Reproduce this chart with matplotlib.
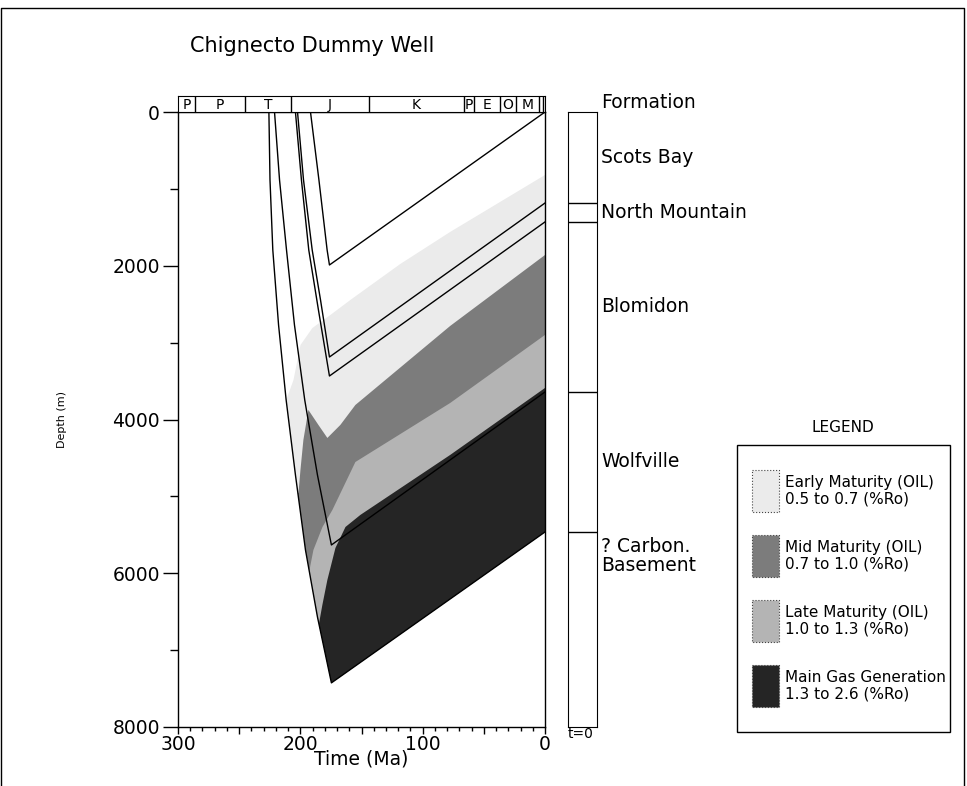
import matplotlib
matplotlib.use('Agg')
import matplotlib.pyplot as plt
from matplotlib.patches import Polygon, Rectangle
import matplotlib.transforms as mtransforms
import numpy as np

plt.rcParams['font.family'] = ['DejaVu Sans']

# burial history of the five horizons, age (Ma) and depth (m)
h1_age = [225.7, 224.8, 222.5, 217.8, 211.6, 204.0, 195.8, 186.0, 174.6, 0]
h1_depth = [0, 884, 1795, 2770, 3746, 4721, 5697, 6569, 7426, 5463]
h2_age = [221.1, 217.0, 211.3, 204.8, 196.4, 186.0, 174.6, 0]
h2_depth = [0, 884, 1795, 2770, 3746, 4722, 5632, 3642]
h3_age = [204.0, 199.1, 193.1, 185.2, 176.2, 0]
h3_depth = [0, 884, 1795, 2575, 3434, 1430]
h4_age = [202.3, 197.4, 190.3, 183.5, 176.2, 0]
h4_depth = [0, 884, 1795, 2445, 3187, 1184]
h5_age = [191.7, 184.8, 178.1, 176.2, 0]
h5_depth = [0, 884, 1795, 1990, 0]

# maturity isolines (%Ro)
ro05_age = [0, 77.5, 118.3, 159.1, 175.4, 190.1, 199.9, 205.6, 212.1]
ro05_depth = [819, 1560, 1977, 2445, 2640, 2809, 3031, 3486, 3772]
ro07_age = [0, 77.5, 155.0, 167.3, 177.9, 185.2, 193.4, 197.5, 199.9, 201.5]
ro07_depth = [1860, 2783, 3811, 4071, 4240, 4071, 3876, 4266, 4656, 4955]
ro10_age = [0, 77.5, 155.0, 173.8, 181.9, 189.3, 192.5, 195.0]
ro10_depth = [2900, 3785, 4553, 5177, 5398, 5697, 5957, 6153]
ro13_age = [0, 77.5, 150.9, 163.1, 171.3, 177.9, 182.0, 184.5, 186.9]
ro13_depth = [3590, 4461, 5241, 5398, 5671, 6087, 6413, 6634, 6868]

zone_names = ['Early Maturity (OIL)\n0.5 to 0.7 (%Ro)',
              'Mid Maturity (OIL)\n0.7 to 1.0 (%Ro)',
              'Late Maturity (OIL)\n1.0 to 1.3 (%Ro)',
              'Main Gas Generation\n1.3 to 2.6 (%Ro)']
zone_colors = ['#ebebeb', '#7c7c7c', '#b4b4b4', '#252525']

period_bounds = [300, 286, 245, 208, 144, 66, 58, 37, 24, 5, 1.6, 0]
period_labels = ['P', 'P', 'T', 'J', 'K', 'P', 'E', 'O', 'M', '', '']

formations = ['Scots Bay', 'North Mountain', 'Blomidon', 'Wolfville',
              '? Carbon.\nBasement']
formation_tops = [0, 1184, 1430, 3642, 5463]

W, H = 967, 786
fig = plt.figure(figsize=(W / 100, H / 100), dpi=100)

ax = fig.add_axes([178 / W, 1 - 727 / H, 367 / W, 615 / H])
ax.set_xlim(300, 0)
ax.set_ylim(8000, 0)

# sediment envelope (everything above the deepest horizon)
env = Polygon(list(zip(h1_age, h1_depth)) + [(0, 0)], closed=True,
              facecolor='none', edgecolor='none', transform=ax.transData)
ax.add_patch(env)

isolines = [(ro05_age, ro05_depth), (ro07_age, ro07_depth),
            (ro10_age, ro10_depth), (ro13_age, ro13_depth)]
for (ages, depths), col in zip(isolines, zone_colors):
    pts = list(zip(ages, depths))
    pts += [(240, depths[-1]), (240, 9000), (-10, 9000), (-10, depths[0])]
    p = Polygon(pts, closed=True, facecolor=col, edgecolor='none', zorder=1)
    ax.add_patch(p)
    p.set_clip_path(env)

for a, d in [(h1_age, h1_depth), (h2_age, h2_depth), (h3_age, h3_depth),
             (h4_age, h4_depth), (h5_age, h5_depth)]:
    ax.plot(a, d, color='black', lw=1.0, zorder=3)

ax.set_xticks(np.arange(0, 301, 50))
ax.set_xticklabels([str(v) if v % 100 == 0 else '' for v in range(0, 301, 50)])
ax.set_xticks(np.arange(0, 301, 10), minor=True)
ax.set_yticks(np.arange(0, 8001, 2000))
ax.set_yticks(np.arange(1000, 8000, 2000), minor=True)
ax.tick_params(axis='y', which='major', length=11, width=1, pad=2, labelsize=13.5)
ax.tick_params(axis='y', which='minor', length=5.5, width=1)
ax.tick_params(axis='x', which='major', length=5, width=1, pad=1, labelsize=13.5)
ax.tick_params(axis='x', which='minor', length=3, width=1)
for s in ax.spines.values():
    s.set_linewidth(1)
ax.set_xlabel('Time (Ma)', fontsize=13.5)
ax.xaxis.set_label_coords(0.5, -0.036)
ax.set_ylabel('Depth (m)', fontsize=8)
ax.yaxis.set_label_coords(-0.302, 0.5)

# geological period bar
axp = fig.add_axes([178 / W, 1 - 112 / H, 367 / W, 16 / H])
axp.set_xlim(300, 0)
axp.set_ylim(0, 1)
axp.set_xticks([])
axp.set_yticks([])
for b in period_bounds[1:-1]:
    axp.axvline(b, color='black', lw=1)
for i, lab in enumerate(period_labels):
    mid = (period_bounds[i] + period_bounds[i + 1]) / 2
    axp.text(mid, 0.45, lab, ha='center', va='center', fontsize=10)

# formation column
axc = fig.add_axes([568 / W, 1 - 727 / H, 29 / W, 615 / H])
axc.set_xlim(0, 1)
axc.set_ylim(8000, 0)
axc.set_xticks([])
axc.set_yticks([])
trans = mtransforms.blended_transform_factory(axc.transAxes, axc.transData)
for t in formation_tops[1:]:
    axc.axhline(t, color='black', lw=1)
axc.text(1.14, -130, 'Formation', transform=trans, ha='left', va='center',
         fontsize=13.5)
for i, name in enumerate(formations):
    if i < len(formations) - 1:
        mid = (formation_tops[i] + formation_tops[i + 1]) / 2
        axc.text(1.14, mid, name, transform=trans, ha='left', va='center',
                 fontsize=13.5)
    else:
        axc.text(1.14, formation_tops[i] + 60, name, transform=trans,
                 ha='left', va='top', fontsize=13.5, linespacing=1.0)
axc.text(0.0, -0.012, 't=0', transform=axc.transAxes, ha='left', va='center',
         fontsize=10)

fig.text(190 / W, 1 - 46 / H, 'Chignecto Dummy Well', fontsize=15,
         ha='left', va='center')

# legend drawn in a pixel overlay
ov = fig.add_axes([0, 0, 1, 1])
ov.set_xlim(0, W)
ov.set_ylim(H, 0)
ov.axis('off')
ov.patch.set_visible(False)
ov.plot([1, 1, 964, 964], [H + 5, 8, 8, H + 5], color='black', lw=1)
ov.text(843, 427, 'LEGEND', ha='center', va='center', fontsize=11)
ov.add_patch(Rectangle((737, 445), 213, 287, facecolor='none',
                       edgecolor='black', lw=1))
for i, (name, col) in enumerate(zip(zone_names, zone_colors)):
    top = 470 + 65 * i
    ov.add_patch(Rectangle((752, top), 27, 42, facecolor=col,
                           edgecolor='#444444', lw=0.8, linestyle=':'))
    ov.text(785, top + 21, name, ha='left', va='center', fontsize=11,
            linespacing=1.15)

fig.savefig('out.png', dpi=100)
